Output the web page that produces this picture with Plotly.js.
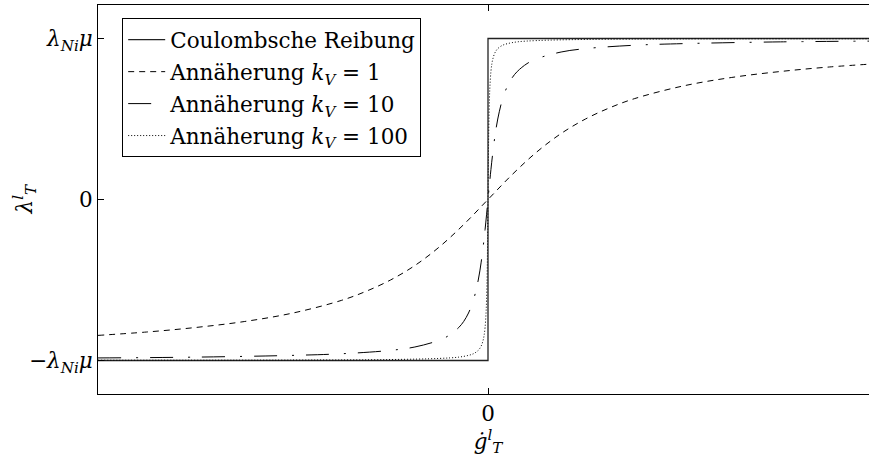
<!DOCTYPE html>
<html>
<head>
<meta charset="utf-8">
<script src="https://cdn.plot.ly/plotly-3.0.1.min.js"></script>
<style>
html,body{margin:0;padding:0;overflow:hidden;background:#fff;width:869px;height:463px;}
#chart{width:880px;height:463px;}
</style>
</head>
<body>
<div id="chart"></div>
<script>
// Coulomb friction (ideal step)
const xCoulomb = [-4, 0, 0, 4];
const yCoulomb = [-1, -1, 1, 1];

// Approximation k_V = 1
const xK1 = [-4,-3.5,-3,-2.5,-2,-1.5,-1.25,-1,-0.75,-0.5,-0.25,0,0.25,0.5,0.75,1,1.25,1.5,2,2.5,3,3.5,4];
const yK1 = [-0.844,-0.823,-0.795,-0.758,-0.705,-0.626,-0.570,-0.5,-0.410,-0.295,-0.156,0,0.156,0.295,0.410,0.5,0.570,0.626,0.705,0.758,0.795,0.823,0.844];

// Approximation k_V = 10
const xK10 = [-4,-3,-2,-1.5,-1,-0.75,-0.5,-0.4,-0.3,-0.25,-0.2,-0.15,-0.1,-0.07,-0.05,-0.03,-0.015,0,0.015,0.03,0.05,0.07,0.1,0.15,0.2,0.25,0.3,0.4,0.5,0.75,1,1.5,2,3,4];
const yK10 = [-0.984,-0.979,-0.968,-0.958,-0.937,-0.916,-0.874,-0.844,-0.795,-0.758,-0.705,-0.626,-0.5,-0.389,-0.295,-0.186,-0.095,0,0.095,0.186,0.295,0.389,0.5,0.626,0.705,0.758,0.795,0.844,0.874,0.916,0.937,0.958,0.968,0.979,0.984];

// Approximation k_V = 100
const xK100 = [-4,-2,-1,-0.5,-0.3,-0.2,-0.15,-0.1,-0.07,-0.05,-0.04,-0.03,-0.02,-0.015,-0.01,-0.007,-0.005,-0.003,0,0.003,0.005,0.007,0.01,0.015,0.02,0.03,0.04,0.05,0.07,0.1,0.15,0.2,0.3,0.5,1,2,4];
const yK100 = [-0.998,-0.997,-0.994,-0.987,-0.979,-0.968,-0.958,-0.937,-0.910,-0.874,-0.844,-0.795,-0.705,-0.626,-0.5,-0.389,-0.295,-0.186,0,0.186,0.295,0.389,0.5,0.626,0.705,0.795,0.844,0.874,0.910,0.937,0.958,0.968,0.979,0.987,0.994,0.997,0.998];

const seriesNames = [
  'Coulombsche Reibung',
  'Annäherung <i>k</i><sub><i>V</i></sub> = 1',
  'Annäherung <i>k</i><sub><i>V</i></sub> = 10',
  'Annäherung <i>k</i><sub><i>V</i></sub> = 100'
];

const yTickVals = [-1, 0, 1];
const yTickText = ['−<i>λ</i><sub><i>Ni</i></sub><i>μ</i>', '0', '<i>λ</i><sub><i>Ni</i></sub><i>μ</i>'];
const xTickVals = [0];
const xTickText = ['0'];
const yTitle = '<i>λ</i><sup><i>l</i></sup><sub><i>T</i></sub>';
const xTitle = '<i>ġ</i><sup><i>l</i></sup><sub><i>T</i></sub>';

const FONT = 'DejaVu Serif';

const traces = [
  {x: xCoulomb, y: yCoulomb, name: seriesNames[0], legendgroup: 'a', mode: 'lines',
   line: {color: '#222', width: 1.3, dash: 'solid'}},
  {x: xK1, y: yK1, name: seriesNames[1], legendgroup: 'b', mode: 'lines',
   line: {color: '#000', width: 1, dash: '6px,5px', shape: 'spline'}},
  {x: xK10, y: yK10, name: seriesNames[2], legendgroup: 'c', mode: 'lines',
   line: {color: '#000', width: 1, dash: '23px,15px,2px,12px', shape: 'spline'}},
  {x: xK100, y: yK100, name: seriesNames[3], legendgroup: 'd', mode: 'lines',
   line: {color: '#000', width: 1, dash: '1px,2px', shape: 'spline'}}
];

const layout = {
  width: 880, height: 463,
  margin: {l: 98, r: 2, t: 5, b: 69},
  paper_bgcolor: '#fff', plot_bgcolor: '#fff',
  font: {family: FONT, size: 21.5, color: '#000'},
  showlegend: true,
  legend: {
    x: 0.031, y: 0.966, xanchor: 'left', yanchor: 'top',
    bgcolor: '#fff', bordercolor: '#000', borderwidth: 1,
    font: {family: FONT, size: 21.5, color: '#000'},
    traceorder: 'grouped', tracegroupgap: 1, itemwidth: 37
  },
  xaxis: {
    range: [-4, 4], tickvals: xTickVals, ticktext: xTickText,
    showline: true, linecolor: '#000', linewidth: 1, mirror: 'ticks',
    ticks: 'inside', ticklen: 6, tickcolor: '#000', tickwidth: 1,
    showgrid: false, zeroline: false,
    tickfont: {family: FONT, size: 21.5},
    title: {text: xTitle, font: {family: FONT, size: 21.5}, standoff: 8}
  },
  yaxis: {
    range: [-1.208, 1.208], tickvals: yTickVals, ticktext: yTickText,
    showline: true, linecolor: '#000', linewidth: 1, mirror: 'ticks',
    ticks: 'inside', ticklen: 6, tickcolor: '#000', tickwidth: 1,
    showgrid: false, zeroline: false,
    tickfont: {family: FONT, size: 21.5}
  },
  annotations: [
    {text: yTitle, xref: 'paper', yref: 'paper', x: 0, y: 0.5, xshift: -74,
     xanchor: 'center', yanchor: 'middle', textangle: -90, showarrow: false,
     font: {family: FONT, size: 21.5, color: '#000'}}
  ]
};

Plotly.newPlot('chart', traces, layout, {displayModeBar: false, staticPlot: true});
</script>
</body>
</html>
